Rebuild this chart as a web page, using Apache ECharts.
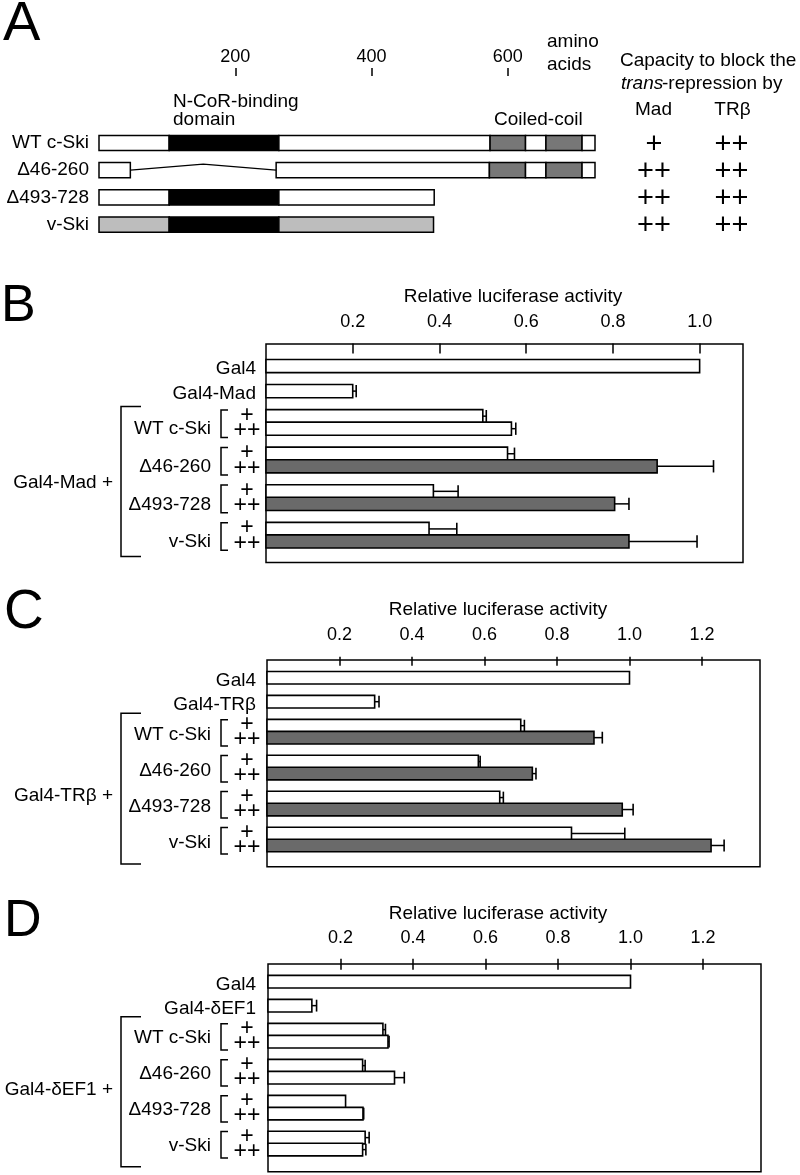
<!DOCTYPE html>
<html><head><meta charset="utf-8">
<script src="https://cdn.jsdelivr.net/npm/echarts@6/dist/echarts.min.js"></script>
<style>html,body{margin:0;padding:0;background:#fff}#c{width:800px;height:1175px}</style>
</head><body><div id="c"></div><script>
// ================= DATA =================
// Panel A: domain structure (amino acids)
const constructs = ['WT c-Ski', 'Δ46-260', 'Δ493-728', 'v-Ski'];
const aaTicks = [200, 400, 600];
const aaMax = 728;
const wtSkiSegments = [[0,103,'plain'],[103,264,'ncor'],[264,574,'plain'],[574,626,'coil'],[626,656,'plain'],[656,709,'coil'],[709,728,'plain']];
const del46Segments = [[0,46,'plain'],[260,573,'plain'],[573,626,'coil'],[626,656,'plain'],[656,709,'coil'],[709,728,'plain']];
const del493Segments = [[0,103,'plain'],[103,264,'ncor'],[264,492,'plain']];
const vSkiSegments = [[0,103,'vski'],[103,264,'ncor'],[264,491,'vski']];
const del46Gap = [46, 260];
const capacityMad = ['+', '++', '++', '++'];
const capacityTR = ['++', '++', '++', '++'];
const doses = ['+', '++'];

// Panel B: Gal4-Mad
const madControls = ['Gal4', 'Gal4-Mad'];
const madControlValues = [1.0, 0.2];
const madControlErr = [0, 0.008];
const madPlus = [0.50, 0.557, 0.386, 0.376];
const madPlusErr = [0.008, 0.016, 0.057, 0.064];
const madDouble = [0.566, 0.902, 0.804, 0.837];
const madDoubleErr = [0.010, 0.130, 0.033, 0.157];
const ticksB = [0.2, 0.4, 0.6, 0.8, 1.0];

// Panel C: Gal4-TRβ
const trControls = ['Gal4', 'Gal4-TRβ'];
const trControlValues = [1.0, 0.297];
const trControlErr = [0, 0.012];
const trPlus = [0.70, 0.583, 0.642, 0.84];
const trPlusErr = [0.010, 0.005, 0.010, 0.147];
const trDouble = [0.902, 0.732, 0.98, 1.225];
const trDoubleErr = [0.023, 0.010, 0.030, 0.036];
const ticksC = [0.2, 0.4, 0.6, 0.8, 1.0, 1.2];

// Panel D: Gal4-δEF1
const efControls = ['Gal4', 'Gal4-δEF1'];
const efControlValues = [1.0, 0.121];
const efControlErr = [0, 0.013];
const efPlus = [0.317, 0.261, 0.214, 0.268];
const efPlusErr = [0.007, 0.007, 0, 0.011];
const efDouble = [0.331, 0.349, 0.262, 0.261];
const efDoubleErr = [0.003, 0.027, 0.002, 0.009];
const ticksD = [0.2, 0.4, 0.6, 0.8, 1.0, 1.2];

// ================= STYLE / LAYOUT =================
const FF = '"Liberation Sans", Arial, Helvetica, sans-serif';
const INK = '#000';
const GREY = '#6a6a6a';
const KIND_FILL = {plain:'#fff', ncor:'#000', coil:'#777', vski:'#bdbdbd'};
const KIND_CODES = ['plain','ncor','coil','vski'];

const LBL = {ctrlRight:256, conRight:211, brX:221, brArm:7, plusX:247, bigX:121, bigArm:20, groupRight:113};

const panels = [
  {grid:{left:266, top:344, width:477, height:218.5}, yMin:-0.76, yMax:16.68, xMax:1.1, ticks:ticksB, tickLen:10, labelMargin:13, nameGap:37, namePad:[0,0,0,17], conDy:0.5, bigTop:4.22, bigBottom:16.2, groupRow:10.34,
   controls:madControls, ctrlVals:madControlValues, ctrlErr:madControlErr, plus:madPlus, plusErr:madPlusErr, dbl:madDouble, dblErr:madDoubleErr, capacity:capacityMad},
  {grid:{left:267, top:660, width:493, height:206.7}, yMin:-0.48, yMax:16.77, xMax:1.36, ticks:ticksC, tickLen:9, labelMargin:16, nameGap:40, namePad:[0,31,0,0], conDy:-3, bigTop:3.97, bigBottom:16.54, groupRow:10.85,
   controls:trControls, ctrlVals:trControlValues, ctrlErr:trControlErr, plus:trPlus, plusErr:trPlusErr, dbl:trDouble, dblErr:trDoubleErr, capacity:capacityTR},
  {grid:{left:268, top:964, width:493, height:207.7}, yMin:-0.47, yMax:16.84, xMax:1.36, ticks:ticksD, tickLen:11, labelMargin:16.7, nameGap:40.7, namePad:[0,33,0,0], conDy:-3.5, bigTop:3.93, bigBottom:16.43, groupRow:10.03,
   controls:efControls, ctrlVals:efControlValues, ctrlErr:efControlErr, plus:efPlus, plusErr:efPlusErr, dbl:efDouble, dblErr:efDoubleErr, capacity:null}
];

function txt(text, x, y, size, align, extra) {
  return {type:'text', x:x, y:y, silent:true,
    style:Object.assign({text:text, fill:INK, fontSize:size, fontFamily:FF, align:align||'left', verticalAlign:'middle'}, extra||{})};
}

// ================= BUILD =================
const grids = [{left:99, top:129.4, width:496, height:108.8, show:false}];
const xAxes = [{
  gridIndex:0, type:'value', min:0, max:aaMax, position:'top', offset:53.4,
  axisLine:{show:false}, splitLine:{show:false},
  axisTick:{show:true, length:8, customValues:aaTicks, lineStyle:{color:INK, width:1.5}},
  axisLabel:{customValues:aaTicks, fontSize:18, fontFamily:FF, color:INK, margin:9.5, lineHeight:18}
}];
const yAxes = [{
  gridIndex:0, type:'category', data:constructs, inverse:true,
  axisLine:{show:false}, axisTick:{show:false}, splitLine:{show:false},
  axisLabel:{fontSize:19, fontFamily:FF, color:INK, margin:10}
}];
const series = [];

// Panel A segments
const segSets = [wtSkiSegments, del46Segments, del493Segments, vSkiSegments];
const segData = [];
segSets.forEach((set, row) => set.forEach(s => segData.push([s[0], row, s[1], KIND_CODES.indexOf(s[2])])));
series.push({
  type:'custom', xAxisIndex:0, yAxisIndex:0, encode:{x:0, y:1}, data:segData,
  renderItem:(params, api) => {
    const a = api.coord([api.value(0), api.value(1)]);
    const b = api.coord([api.value(2), api.value(1)]);
    const h = Math.abs(api.size([0,1])[1]) * 0.56;
    return {type:'rect', shape:{x:a[0], y:a[1]-h/2, width:b[0]-a[0], height:h},
      style:{fill:KIND_FILL[KIND_CODES[api.value(3)]], stroke:INK, lineWidth:1.5}};
  }
});
// deletion connector
series.push({
  type:'custom', xAxisIndex:0, yAxisIndex:0, encode:{x:0, y:1}, data:[[del46Gap[0], 1, del46Gap[1]]],
  renderItem:(params, api) => {
    const a = api.coord([api.value(0), api.value(1)]);
    const b = api.coord([api.value(2), api.value(1)]);
    const m = api.coord([(api.value(0)+api.value(2))/2, api.value(1)]);
    return {type:'polyline', shape:{points:[a, [m[0], m[1]-6], b]}, style:{fill:'none', stroke:INK, lineWidth:1.3}};
  }
});
// capacity column
series.push({
  type:'custom', xAxisIndex:0, yAxisIndex:0, encode:{x:0, y:1},
  data:constructs.map((c, i) => [0, i]),
  renderItem:(params, api) => {
    const y = api.coord([0, api.value(1)])[1] + 1.5;
    const i = params.dataIndex;
    return {type:'group', children:[
      txt(capacityMad[i], 654, y, 29, 'center'),
      txt(capacityTR[i], 731.5, y, 29, 'center')
    ]};
  }
});

panels.forEach((P, pi) => {
  const gi = pi + 1;
  grids.push(Object.assign({show:true, borderColor:INK, borderWidth:1.5, backgroundColor:'transparent'}, P.grid));
  xAxes.push({
    gridIndex:gi, type:'value', min:0, max:P.xMax, interval:0.2, position:'top',
    name:'Relative luciferase activity', nameLocation:'middle', nameGap:P.nameGap,
    nameTextStyle:{fontSize:19, fontFamily:FF, color:INK, lineHeight:20, padding:P.namePad},
    axisLine:{show:false}, splitLine:{show:false},
    axisTick:{show:true, length:P.tickLen, customValues:P.ticks, lineStyle:{color:INK, width:1.5}},
    axisLabel:{customValues:P.ticks, fontSize:18, fontFamily:FF, color:INK, margin:P.labelMargin, lineHeight:18,
      formatter:(v) => Number(v).toFixed(1)}
  });
  yAxes.push({gridIndex:gi, type:'value', inverse:true, min:P.yMin, max:P.yMax, show:false});

  // bar rows
  const bars = [];
  P.ctrlVals.forEach((v, i) => bars.push([v, 1 + 2*i, P.ctrlErr[i], 0]));
  P.plus.forEach((v, k) => {
    bars.push([v, 5 + 3*k, P.plusErr[k], 0]);
    bars.push([P.dbl[k], 6 + 3*k, P.dblErr[k], (P.capacity && P.capacity[k] === '++') ? 1 : 0]);
  });
  series.push({
    type:'custom', xAxisIndex:gi, yAxisIndex:gi, encode:{x:0, y:1}, data:bars,
    renderItem:(params, api) => {
      const v = api.value(0), row = api.value(1), err = api.value(2), shaded = api.value(3);
      const a = api.coord([0, row]);
      const b = api.coord([v, row]);
      const h = Math.abs(api.size([0,1])[1]) * 1.05;
      const ch = [{type:'rect', shape:{x:a[0], y:a[1]-h/2, width:b[0]-a[0], height:h},
        style:{fill:shaded ? GREY : '#fff', stroke:INK, lineWidth:1.6}}];
      if (err > 0) {
        const e = api.coord([v + err, row]);
        ch.push({type:'line', shape:{x1:b[0], y1:b[1], x2:e[0], y2:e[1]}, style:{stroke:INK, lineWidth:1.5}});
        ch.push({type:'line', shape:{x1:e[0], y1:e[1]-h*0.47, x2:e[0], y2:e[1]+h*0.47}, style:{stroke:INK, lineWidth:1.6}});
      }
      return {type:'group', children:ch};
    }
  });

  // labels, small brackets, dose marks
  const labelItems = [];
  P.controls.forEach((c, i) => labelItems.push([0, 1 + 2*i, 0, i]));
  constructs.forEach((c, k) => labelItems.push([0, 5 + 3*k, 1, k]));
  series.push({
    type:'custom', xAxisIndex:gi, yAxisIndex:gi, encode:{x:0, y:1}, data:labelItems,
    renderItem:(params, api) => {
      const row = api.value(1), kind = api.value(2), idx = api.value(3);
      const y = api.coord([0, row])[1];
      const u = Math.abs(api.size([0,1])[1]);
      if (kind === 0) return txt(P.controls[idx], LBL.ctrlRight, y + 3, 19, 'right');
      const yD = api.coord([0, row + 1])[1];
      const top = y - 0.5*u, bot = yD + 0.7*u;
      return {type:'group', children:[
        txt(constructs[idx], LBL.conRight, yD + P.conDy, 19, 'right'),
        {type:'polyline', silent:true, shape:{points:[[LBL.brX+LBL.brArm, top],[LBL.brX, top],[LBL.brX, bot],[LBL.brX+LBL.brArm, bot]]},
          style:{fill:'none', stroke:INK, lineWidth:1.5}},
        txt(doses[0], LBL.plusX, y - 1, 23, 'center'),
        txt(doses[1], LBL.plusX, yD + 2, 23, 'center')
      ]};
    }
  });

  // big bracket + group label
  series.push({
    type:'custom', xAxisIndex:gi, yAxisIndex:gi, encode:{x:0, y:1}, data:[[0, P.bigTop, P.bigBottom, P.groupRow]],
    renderItem:(params, api) => {
      const t = api.coord([0, api.value(1)])[1];
      const b = api.coord([0, api.value(2)])[1];
      const g = api.coord([0, api.value(3)])[1];
      return {type:'group', children:[
        {type:'polyline', silent:true, shape:{points:[[LBL.bigX+LBL.bigArm, t],[LBL.bigX, t],[LBL.bigX, b],[LBL.bigX+LBL.bigArm, b]]},
          style:{fill:'none', stroke:INK, lineWidth:1.5}},
        txt(P.controls[1] + ' +', LBL.groupRight, g, 19, 'right')
      ]};
    }
  });
});

const graphic = [
  txt('A', 3, 25, 56, 'left'),
  txt('B', 1, 306.5, 52, 'left'),
  txt('C', 4, 612.5, 55, 'left'),
  txt('D', 4, 921.5, 52, 'left'),
  txt('N-CoR-binding\ndomain', 173, 111, 19, 'left', {lineHeight:18}),
  txt('Coiled-coil', 494, 119.5, 19, 'left'),
  txt('amino\nacids', 547, 53, 19, 'left', {lineHeight:22.6}),
  txt('Capacity to block the', 620, 61, 19, 'left'),
  txt('trans', 621, 84, 19, 'left', {fontStyle:'italic'}),
  txt('-repression by', 662, 84, 19, 'left'),
  txt('Mad', 653.5, 110, 19, 'center'),
  txt('TRβ', 732.5, 110, 19, 'center')
];

const chart = echarts.init(document.getElementById('c'), null, {renderer:'canvas'});
chart.setOption({
  animation:false,
  backgroundColor:'#fff',
  grid:grids, xAxis:xAxes, yAxis:yAxes, series:series, graphic:graphic
});
</script></body></html>
